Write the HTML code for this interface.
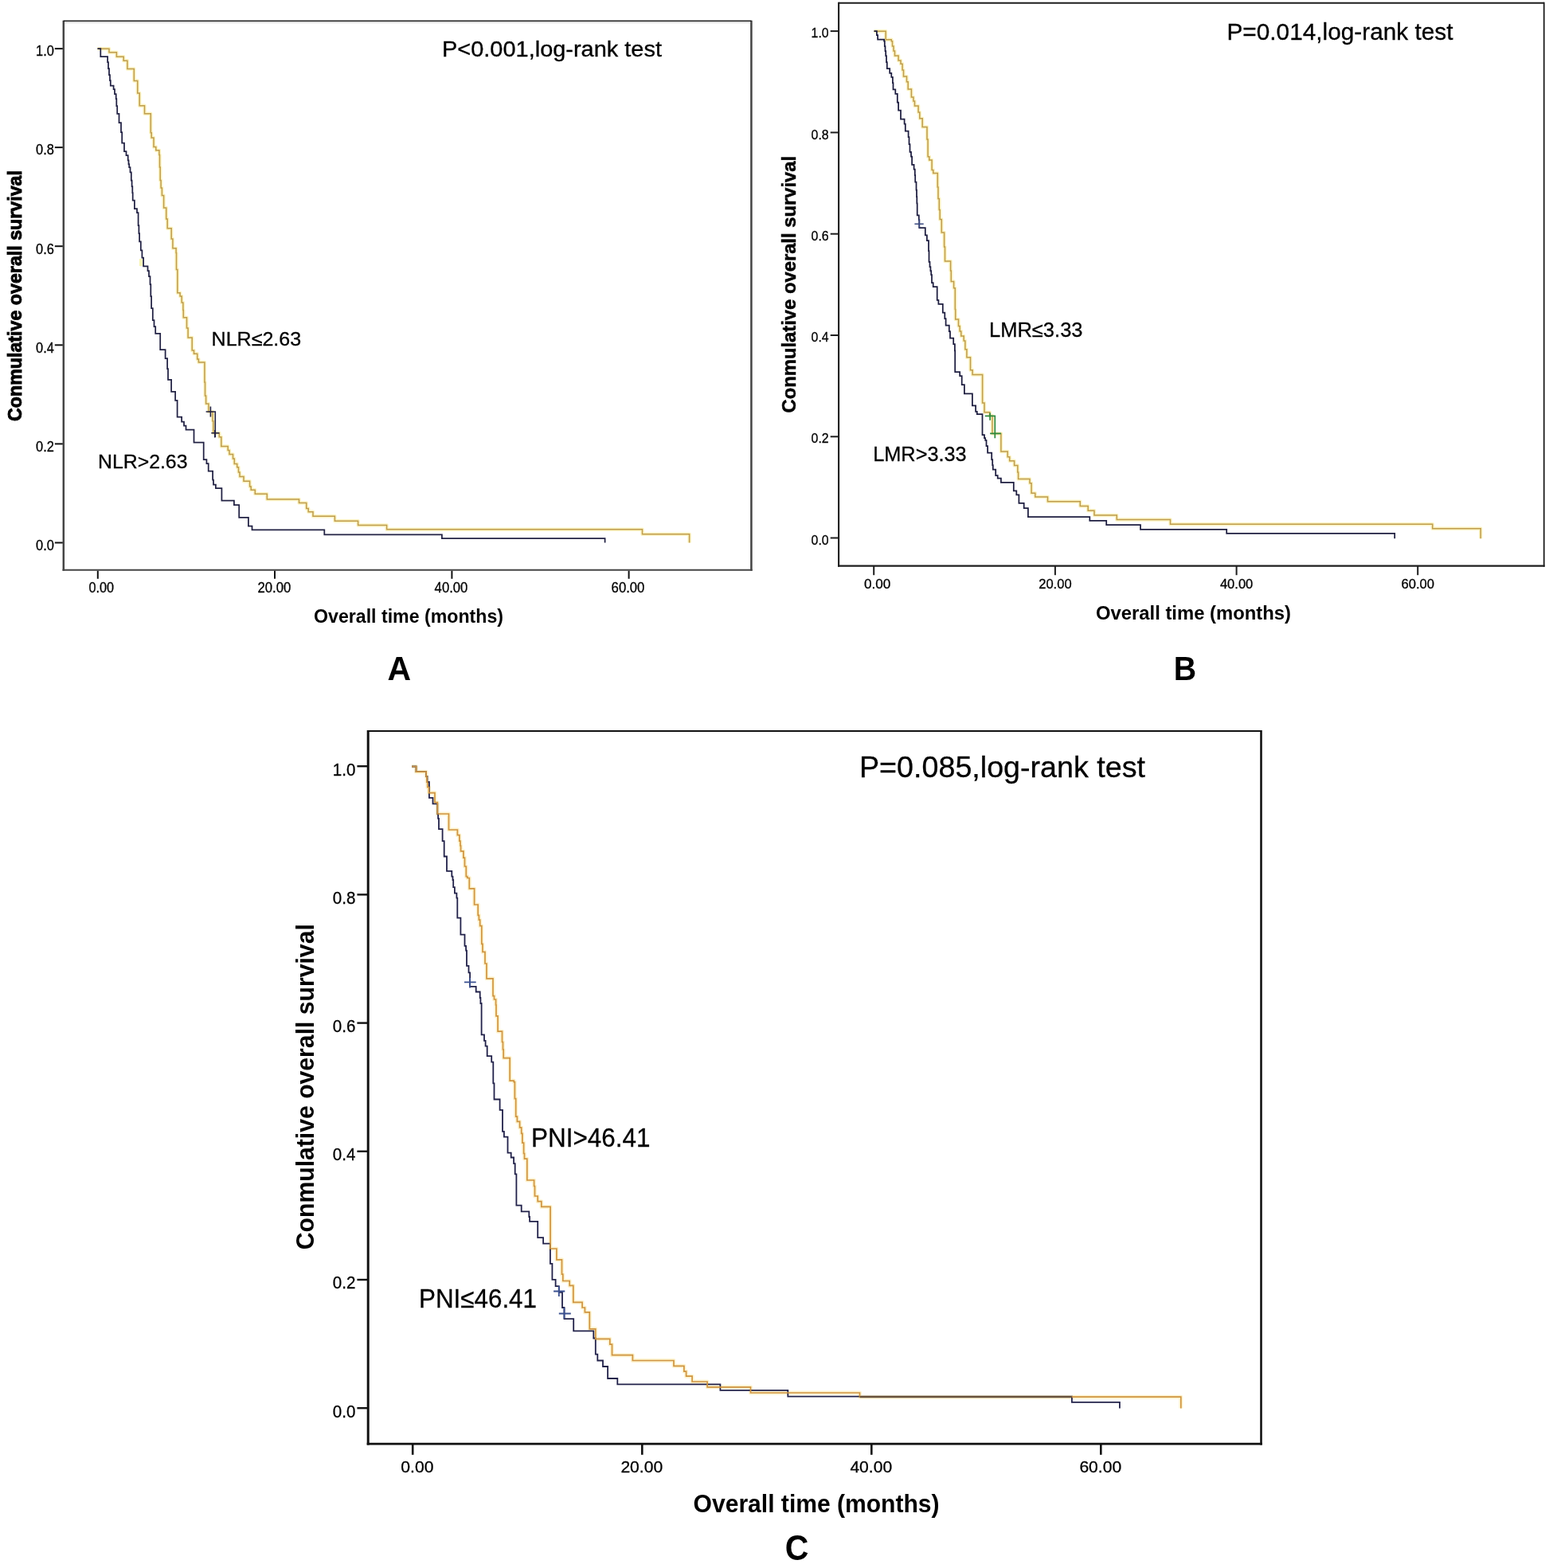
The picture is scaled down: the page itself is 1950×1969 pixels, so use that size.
<!DOCTYPE html>
<html><head><meta charset="utf-8"><title>Kaplan-Meier survival curves</title>
<style>
html,body{margin:0;padding:0;background:#fff;}
svg{display:block;}
text{font-family:"Liberation Sans",Arial,sans-serif;}
</style></head>
<body>
<svg width="1950" height="1969" viewBox="0 0 1950 1969">
<rect width="1950" height="1969" fill="#fff"/>
<line x1="79.8" y1="26.4" x2="943.4" y2="26.4" stroke="#444" stroke-width="1.4"/>
<line x1="79.8" y1="25.7" x2="79.8" y2="716.8499999999999" stroke="#444" stroke-width="2.5"/>
<line x1="943.4" y1="25.7" x2="943.4" y2="716.8499999999999" stroke="#444" stroke-width="2.5"/>
<line x1="78.55" y1="715.8" x2="944.65" y2="715.8" stroke="#444" stroke-width="2.1"/>
<line x1="81.1" y1="28.2" x2="942.1" y2="28.2" stroke="#d6d6d6" stroke-width="1.6"/>
<line x1="79.8" y1="26.4" x2="943.4" y2="26.4" stroke="#111" stroke-width="1.4"/>
<line x1="68.8" y1="61.1" x2="78.8" y2="61.1" stroke="#111" stroke-width="2"/>
<text x="67.9" y="70.4" font-size="18" stroke="#000" stroke-width="0.3" textLength="22.8" lengthAdjust="spacingAndGlyphs" text-anchor="end">1.0</text>
<line x1="68.8" y1="185.1" x2="78.8" y2="185.1" stroke="#111" stroke-width="2"/>
<text x="67.9" y="194.4" font-size="18" stroke="#000" stroke-width="0.3" textLength="22.8" lengthAdjust="spacingAndGlyphs" text-anchor="end">0.8</text>
<line x1="68.8" y1="309.2" x2="78.8" y2="309.2" stroke="#111" stroke-width="2"/>
<text x="67.9" y="318.5" font-size="18" stroke="#000" stroke-width="0.3" textLength="22.8" lengthAdjust="spacingAndGlyphs" text-anchor="end">0.6</text>
<line x1="68.8" y1="433.3" x2="78.8" y2="433.3" stroke="#111" stroke-width="2"/>
<text x="67.9" y="442.6" font-size="18" stroke="#000" stroke-width="0.3" textLength="22.8" lengthAdjust="spacingAndGlyphs" text-anchor="end">0.4</text>
<line x1="68.8" y1="557.4" x2="78.8" y2="557.4" stroke="#111" stroke-width="2"/>
<text x="67.9" y="566.6999999999999" font-size="18" stroke="#000" stroke-width="0.3" textLength="22.8" lengthAdjust="spacingAndGlyphs" text-anchor="end">0.2</text>
<line x1="68.8" y1="681.5" x2="78.8" y2="681.5" stroke="#111" stroke-width="2"/>
<text x="67.9" y="690.8" font-size="18" stroke="#000" stroke-width="0.3" textLength="22.8" lengthAdjust="spacingAndGlyphs" text-anchor="end">0.0</text>
<line x1="122.8" y1="716.8" x2="122.8" y2="726.8" stroke="#111" stroke-width="2"/>
<text x="127.3" y="744.2" font-size="17.5" stroke="#000" stroke-width="0.3" textLength="31.6" lengthAdjust="spacingAndGlyphs" text-anchor="middle">0.00</text>
<line x1="345.0" y1="716.8" x2="345.0" y2="726.8" stroke="#111" stroke-width="2"/>
<text x="344.4" y="744.2" font-size="17.5" stroke="#000" stroke-width="0.3" textLength="41.8" lengthAdjust="spacingAndGlyphs" text-anchor="middle">20.00</text>
<line x1="567.4" y1="716.8" x2="567.4" y2="726.8" stroke="#111" stroke-width="2"/>
<text x="566.5" y="744.2" font-size="17.5" stroke="#000" stroke-width="0.3" textLength="41.8" lengthAdjust="spacingAndGlyphs" text-anchor="middle">40.00</text>
<line x1="789.6" y1="716.8" x2="789.6" y2="726.8" stroke="#111" stroke-width="2"/>
<text x="788.5" y="744.2" font-size="17.5" stroke="#000" stroke-width="0.3" textLength="41.8" lengthAdjust="spacingAndGlyphs" text-anchor="middle">60.00</text>
<text x="394.0" y="781.6" font-size="23.2" font-weight="bold" textLength="238" lengthAdjust="spacingAndGlyphs">Overall time (months)</text>
<text x="26.6" y="529.0" font-size="23.0" font-weight="bold" textLength="315" lengthAdjust="spacingAndGlyphs" transform="rotate(-90 26.6 529.0)" stroke="#000" stroke-width="0.9">Conmulative overall survival</text>
<text x="555.0" y="71.0" font-size="26.8" stroke="#000" stroke-width="0.3" textLength="276" lengthAdjust="spacingAndGlyphs">P&lt;0.001,log-rank test</text>
<text x="265.6" y="434.0" font-size="24.5" stroke="#000" stroke-width="0.3" textLength="112.5" lengthAdjust="spacingAndGlyphs">NLR≤2.63</text>
<text x="123.0" y="587.6" font-size="24.5" stroke="#000" stroke-width="0.3" textLength="112.5" lengthAdjust="spacingAndGlyphs">NLR&gt;2.63</text>
<text x="486.6" y="854.0" font-size="43.0" font-weight="bold" textLength="29.6" lengthAdjust="spacingAndGlyphs">A</text>
<path d="M122.5,61.2H137V65.7H146.4V71.3H155.2V76.3H159.9V86.4H168.3V101.4H172.7V117.1H175.2V132.8H181.5V142.8H189.3V166.7H190.2V173.1H193V184.4H195.8V188.8H199.9V194.5H200.5V210H201.2V226.5H202.1V235.9H203.4V245.6H205.6V261H208.7V275H210.2V286.7H215.2V300H216.9V311.8H221.1V317.6H221.5V338.5H222.8V367.8H226.1V372H228.2V380H229.9V389.6H230.3V398.8H234.5V412H236.1V423.9H241.2V440H243.5V444.2H247.7V451H249.4V455.1H256.9V480H257.5V496.9H258.6V507H261.9V517H267V528.7H267.8V543.8H275.3V548.8H277.8V560.5H286.2V565.5H288V570.5H292.5V576H294.3V582.5H297.7V586.7H299.5V593H301V598.4H306V604.3H313.6V611H315.2V615.2H320.3V620.2H335.3V626.9H375.5V631.5H384.7V638.6H387.2V642.8H393V648.2H420.4V654.2H449.6V659.4H485.6V664.8H806.5V670.8H865.6V681.4" fill="none" stroke="#fbf3c2" stroke-width="4.5" stroke-linejoin="round"/>
<path d="M122.5,61.2H137V65.7H146.4V71.3H155.2V76.3H159.9V86.4H168.3V101.4H172.7V117.1H175.2V132.8H181.5V142.8H189.3V166.7H190.2V173.1H193V184.4H195.8V188.8H199.9V194.5H200.5V210H201.2V226.5H202.1V235.9H203.4V245.6H205.6V261H208.7V275H210.2V286.7H215.2V300H216.9V311.8H221.1V317.6H221.5V338.5H222.8V367.8H226.1V372H228.2V380H229.9V389.6H230.3V398.8H234.5V412H236.1V423.9H241.2V440H243.5V444.2H247.7V451H249.4V455.1H256.9V480H257.5V496.9H258.6V507H261.9V517H267V528.7H267.8V543.8H275.3V548.8H277.8V560.5H286.2V565.5H288V570.5H292.5V576H294.3V582.5H297.7V586.7H299.5V593H301V598.4H306V604.3H313.6V611H315.2V615.2H320.3V620.2H335.3V626.9H375.5V631.5H384.7V638.6H387.2V642.8H393V648.2H420.4V654.2H449.6V659.4H485.6V664.8H806.5V670.8H865.6V681.4" fill="none" stroke="#bf9c4c" stroke-width="1.5"/>
<path d="M122.5,61.2H126.3V71.0H135.1V78H136V86H137V94H138V101H138.8V107.7H142.6V112.1H144V118H145.7V124H146.3V133H147.2V142.8H149.5V154.1H152V166H153.2V179.7H156V190.1H158.5V195.1H160.7V201.4H161.5V206H162.2V210.2H163.5V216.4H164.8V226.5H165.6V234H166.3V242.1H166.7V251.6H168.9V262.2H172V267.2H173.6V283H174.4V293H175.1V303.4H176.8V314.3H178.4V323.5H180.1V334.4H185.5V340H187V347H188.5V357H189.3V372H190.1V387H191.8V402H193.5V410H195.2V418.8H201.2V439.2H207.6V450H210.1V463H211V476.8H215.1V491.9H220.1V502.8H222.6V523.7H228.1V529.5H231V534.6H233.5V539.6H243.5V555.5H255.7V577.2H259.4V582.2H261.7V591.7H267.1V602.6H268V608.5H270.9V613.1H278.4V628.5H293.9V634H300.2V649.9H311.9V660.7H316.5V665.4H407.3V671.3H554.9V676.2H759.6V681.4" fill="none" stroke="#222244" stroke-width="1.75"/>
<path d="M258.6,517H270.3V549M264.4,510.5V523.5M265.3,543.8H275.3M269.8,540V549.6" fill="none" stroke="#222244" stroke-width="1.6"/>
<rect x="174.8" y="325" width="4" height="9" fill="#f6f3a6" opacity="0.8"/>
<line x1="1053.1" y1="3.8" x2="1938.7" y2="3.8" stroke="#1e1e1e" stroke-width="2.0"/>
<line x1="1053.1" y1="2.8" x2="1053.1" y2="711.85" stroke="#1e1e1e" stroke-width="2.1"/>
<line x1="1938.7" y1="2.8" x2="1938.7" y2="711.85" stroke="#1e1e1e" stroke-width="1.8"/>
<line x1="1052.05" y1="710.7" x2="1939.6000000000001" y2="710.7" stroke="#1e1e1e" stroke-width="2.3"/>
<line x1="1042.7" y1="39.1" x2="1053.1" y2="39.1" stroke="#1e1e1e" stroke-width="2"/>
<text x="1040.6" y="47.2" font-size="16.3" stroke="#000" stroke-width="0.3" textLength="22.0" lengthAdjust="spacingAndGlyphs" text-anchor="end">1.0</text>
<line x1="1042.7" y1="166.4" x2="1053.1" y2="166.4" stroke="#1e1e1e" stroke-width="2"/>
<text x="1040.6" y="174.5" font-size="16.3" stroke="#000" stroke-width="0.3" textLength="22.0" lengthAdjust="spacingAndGlyphs" text-anchor="end">0.8</text>
<line x1="1042.7" y1="293.7" x2="1053.1" y2="293.7" stroke="#1e1e1e" stroke-width="2"/>
<text x="1040.6" y="301.8" font-size="16.3" stroke="#000" stroke-width="0.3" textLength="22.0" lengthAdjust="spacingAndGlyphs" text-anchor="end">0.6</text>
<line x1="1042.7" y1="421.0" x2="1053.1" y2="421.0" stroke="#1e1e1e" stroke-width="2"/>
<text x="1040.6" y="429.1" font-size="16.3" stroke="#000" stroke-width="0.3" textLength="22.0" lengthAdjust="spacingAndGlyphs" text-anchor="end">0.4</text>
<line x1="1042.7" y1="548.3" x2="1053.1" y2="548.3" stroke="#1e1e1e" stroke-width="2"/>
<text x="1040.6" y="556.4" font-size="16.3" stroke="#000" stroke-width="0.3" textLength="22.0" lengthAdjust="spacingAndGlyphs" text-anchor="end">0.2</text>
<line x1="1042.7" y1="675.5" x2="1053.1" y2="675.5" stroke="#1e1e1e" stroke-width="2"/>
<text x="1040.6" y="683.6" font-size="16.3" stroke="#000" stroke-width="0.3" textLength="22.0" lengthAdjust="spacingAndGlyphs" text-anchor="end">0.0</text>
<line x1="1097.2" y1="710.7" x2="1097.2" y2="722.2" stroke="#1e1e1e" stroke-width="2"/>
<text x="1101.7" y="738.9" font-size="16.7" stroke="#000" stroke-width="0.3" textLength="33.4" lengthAdjust="spacingAndGlyphs" text-anchor="middle">0.00</text>
<line x1="1324.9" y1="710.7" x2="1324.9" y2="722.2" stroke="#1e1e1e" stroke-width="2"/>
<text x="1324.9" y="738.9" font-size="16.7" stroke="#000" stroke-width="0.3" textLength="41.4" lengthAdjust="spacingAndGlyphs" text-anchor="middle">20.00</text>
<line x1="1552.6" y1="710.7" x2="1552.6" y2="722.2" stroke="#1e1e1e" stroke-width="2"/>
<text x="1552.6" y="738.9" font-size="16.7" stroke="#000" stroke-width="0.3" textLength="41.4" lengthAdjust="spacingAndGlyphs" text-anchor="middle">40.00</text>
<line x1="1780.2" y1="710.7" x2="1780.2" y2="722.2" stroke="#1e1e1e" stroke-width="2"/>
<text x="1780.2" y="738.9" font-size="16.7" stroke="#000" stroke-width="0.3" textLength="41.4" lengthAdjust="spacingAndGlyphs" text-anchor="middle">60.00</text>
<text x="1376.0" y="777.9" font-size="24.2" font-weight="bold" textLength="245" lengthAdjust="spacingAndGlyphs">Overall time (months)</text>
<text x="998.9" y="518.4" font-size="24.2" font-weight="bold" textLength="322.5" lengthAdjust="spacingAndGlyphs" transform="rotate(-90 998.9 518.4)" stroke="#000" stroke-width="0.5">Conmulative overall survival</text>
<text x="1540.5" y="50.0" font-size="29.5" stroke="#000" stroke-width="0.3" textLength="284" lengthAdjust="spacingAndGlyphs">P=0.014,log-rank test</text>
<text x="1242.0" y="422.6" font-size="25.3" stroke="#000" stroke-width="0.3" textLength="117.5" lengthAdjust="spacingAndGlyphs">LMR≤3.33</text>
<text x="1096.2" y="579.4" font-size="25.3" stroke="#000" stroke-width="0.3" textLength="117.5" lengthAdjust="spacingAndGlyphs">LMR&gt;3.33</text>
<text x="1473.8" y="854.0" font-size="43.0" font-weight="bold" textLength="28.4" lengthAdjust="spacingAndGlyphs">B</text>
<path d="M1097.5,39.2H1112.2V49.7H1119.3V51.7H1120.5V58H1122V64H1123.5V70.1H1128.1V76H1131V80.2H1133.1V88H1134.5V96.1H1138.5V102.8H1140.2V112H1144.4V122H1146.9V127H1148.5V132.9H1153.1V141H1154.8V148.8H1158.2V159.6H1164V175H1165.1V196.7H1166.8V200.9H1170.1V213.5H1171.8V217.6H1177.3V235H1178V249.4H1179.3V263.6H1180.2V275.4H1182.3V292.1H1185.6V310H1186.5V328H1193.6V340H1194.3V353.4H1197.6V361.8H1199.3V388.5H1199.7V401.1H1203.5V409.5H1205.2V416H1206.8V422H1210.2V427.9H1211.9V438.7H1213.9V448.8H1218.5V464.7H1221.1V470.5H1233.6V506H1236V517.7H1242.7V522.3H1246V544.4H1256.9V567H1265.2V573.7H1267.7V578.7H1273.6V584.6H1277.8V593H1278.6V601.5H1293V606.7H1295.1V619.3H1299.8V624H1315.5V629.7H1356.3V635.5H1366.2V641.2H1374V647H1402.3V652.5H1469.5V658.3H1798.7V663.7H1859.2V676.2" fill="none" stroke="#fbf3c2" stroke-width="4.5" stroke-linejoin="round"/>
<path d="M1097.5,39.2H1112.2V49.7H1119.3V51.7H1120.5V58H1122V64H1123.5V70.1H1128.1V76H1131V80.2H1133.1V88H1134.5V96.1H1138.5V102.8H1140.2V112H1144.4V122H1146.9V127H1148.5V132.9H1153.1V141H1154.8V148.8H1158.2V159.6H1164V175H1165.1V196.7H1166.8V200.9H1170.1V213.5H1171.8V217.6H1177.3V235H1178V249.4H1179.3V263.6H1180.2V275.4H1182.3V292.1H1185.6V310H1186.5V328H1193.6V340H1194.3V353.4H1197.6V361.8H1199.3V388.5H1199.7V401.1H1203.5V409.5H1205.2V416H1206.8V422H1210.2V427.9H1211.9V438.7H1213.9V448.8H1218.5V464.7H1221.1V470.5H1233.6V506H1236V517.7H1242.7V522.3H1246V544.4H1256.9V567H1265.2V573.7H1267.7V578.7H1273.6V584.6H1277.8V593H1278.6V601.5H1293V606.7H1295.1V619.3H1299.8V624H1315.5V629.7H1356.3V635.5H1366.2V641.2H1374V647H1402.3V652.5H1469.5V658.3H1798.7V663.7H1859.2V676.2" fill="none" stroke="#bf9c4c" stroke-width="1.5"/>
<path d="M1097.5,39.2H1100.9V44.2H1102.1V49.7H1110.1V51.7H1110.8V58H1111.5V64H1112.2V70.1H1113V78H1113.8V86H1117.2V91.9H1119.3V96.9H1120.9V104H1121.5V112.4H1124.3V117.8H1126.8V128.7H1128.1V138.7H1131V149.6H1135.6V155.5H1136.8V164.7H1140.6V172H1141.5V181H1142.5V190.9H1144V196.7H1145.1V206.8H1147.6V212.6H1148.8V220H1149.2V228.5H1150.5V238.5H1151V247H1151.3V255.3H1151.7V270.3H1153.8V276.2H1154.3V286.2H1161.8V295.4H1163.9V302.1H1166V315H1166.5V328.9H1167.5V335H1168.4V340H1169.2V345.1H1170V355.1H1171.7V360.1H1176.7V376.8H1178.4V381.9H1183.8V392.7H1186.3V400H1187.6V408.6H1191.8V416H1193V424.5H1197.2V432H1198.9V440.4H1199.2V467.2H1205.2V472.2H1207.7V483.1H1210.9V494.3H1220.9V509.3H1225.1V516.8H1226.8V520.2H1233.5V546.1H1236V550H1237.2V552.8H1238.5V560H1240.1V568.7H1245.2V577H1246.2V584H1246.8V589.6H1250.2V597.1H1252.7V600.5H1256.9V605.9H1272.8V616.4H1276.3V621.4H1279.4V631.8H1285.7V638.1H1290.9V649.1H1368.3V653.8H1389.2V659.0H1432V664.8H1540.2V669.8H1751.2V676.2" fill="none" stroke="#1e1e40" stroke-width="1.75"/>
<path d="M1148.4,281.2H1159.7M1154.3,275.3V286.2" fill="none" stroke="#3a4a80" stroke-width="1.6"/>
<path d="M1236.8,522.3H1249.3V550.3M1243.1,518.5V527.7M1243.1,544.4H1256.9" fill="none" stroke="#2e8a3e" stroke-width="1.7"/>
<line x1="462.2" y1="918.0" x2="1583.5" y2="918.0" stroke="#111" stroke-width="2.0"/>
<line x1="462.2" y1="917.0" x2="462.2" y2="1814.3999999999999" stroke="#111" stroke-width="3.0"/>
<line x1="1583.5" y1="917.0" x2="1583.5" y2="1814.3999999999999" stroke="#111" stroke-width="2.6"/>
<line x1="460.7" y1="1813.1" x2="1584.8" y2="1813.1" stroke="#111" stroke-width="2.6"/>
<line x1="448.4" y1="962.2" x2="462.2" y2="962.2" stroke="#111" stroke-width="2.4"/>
<text x="446.4" y="973.6" font-size="21.2" stroke="#000" stroke-width="0.3" textLength="28.6" lengthAdjust="spacingAndGlyphs" text-anchor="end">1.0</text>
<line x1="448.4" y1="1123.4" x2="462.2" y2="1123.4" stroke="#111" stroke-width="2.4"/>
<text x="446.4" y="1134.8000000000002" font-size="21.2" stroke="#000" stroke-width="0.3" textLength="28.6" lengthAdjust="spacingAndGlyphs" text-anchor="end">0.8</text>
<line x1="448.4" y1="1284.6" x2="462.2" y2="1284.6" stroke="#111" stroke-width="2.4"/>
<text x="446.4" y="1296.0" font-size="21.2" stroke="#000" stroke-width="0.3" textLength="28.6" lengthAdjust="spacingAndGlyphs" text-anchor="end">0.6</text>
<line x1="448.4" y1="1445.8" x2="462.2" y2="1445.8" stroke="#111" stroke-width="2.4"/>
<text x="446.4" y="1457.2" font-size="21.2" stroke="#000" stroke-width="0.3" textLength="28.6" lengthAdjust="spacingAndGlyphs" text-anchor="end">0.4</text>
<line x1="448.4" y1="1607.0" x2="462.2" y2="1607.0" stroke="#111" stroke-width="2.4"/>
<text x="446.4" y="1618.4" font-size="21.2" stroke="#000" stroke-width="0.3" textLength="28.6" lengthAdjust="spacingAndGlyphs" text-anchor="end">0.2</text>
<line x1="448.4" y1="1768.2" x2="462.2" y2="1768.2" stroke="#111" stroke-width="2.4"/>
<text x="446.4" y="1779.6000000000001" font-size="21.2" stroke="#000" stroke-width="0.3" textLength="28.6" lengthAdjust="spacingAndGlyphs" text-anchor="end">0.0</text>
<line x1="518.2" y1="1813.1" x2="518.2" y2="1826.8" stroke="#111" stroke-width="2.6"/>
<text x="523.9" y="1848.7" font-size="21.0" stroke="#000" stroke-width="0.3" textLength="41.2" lengthAdjust="spacingAndGlyphs" text-anchor="middle">0.00</text>
<line x1="806.3" y1="1813.1" x2="806.3" y2="1826.8" stroke="#111" stroke-width="2.6"/>
<text x="805.8" y="1848.7" font-size="21.0" stroke="#000" stroke-width="0.3" textLength="52.8" lengthAdjust="spacingAndGlyphs" text-anchor="middle">20.00</text>
<line x1="1094.3" y1="1813.1" x2="1094.3" y2="1826.8" stroke="#111" stroke-width="2.6"/>
<text x="1093.8" y="1848.7" font-size="21.0" stroke="#000" stroke-width="0.3" textLength="52.8" lengthAdjust="spacingAndGlyphs" text-anchor="middle">40.00</text>
<line x1="1382.3" y1="1813.1" x2="1382.3" y2="1826.8" stroke="#111" stroke-width="2.6"/>
<text x="1381.8" y="1848.7" font-size="21.0" stroke="#000" stroke-width="0.3" textLength="52.8" lengthAdjust="spacingAndGlyphs" text-anchor="middle">60.00</text>
<text x="870.6" y="1899.2" font-size="31.0" font-weight="bold" textLength="309" lengthAdjust="spacingAndGlyphs">Overall time (months)</text>
<text x="393.7" y="1569.2" font-size="31.2" font-weight="bold" textLength="409" lengthAdjust="spacingAndGlyphs" transform="rotate(-90 393.7 1569.2)">Conmulative overall survival</text>
<text x="1079.0" y="976.4" font-size="37.8" stroke="#000" stroke-width="0.3" textLength="359" lengthAdjust="spacingAndGlyphs">P=0.085,log-rank test</text>
<text x="667.0" y="1439.5" font-size="33.5" stroke="#000" stroke-width="0.3" textLength="149.5" lengthAdjust="spacingAndGlyphs">PNI&gt;46.41</text>
<text x="526.0" y="1642.4" font-size="33.5" stroke="#000" stroke-width="0.3" textLength="148" lengthAdjust="spacingAndGlyphs">PNI≤46.41</text>
<text x="985.8" y="1958.8" font-size="43.6" font-weight="bold" textLength="29.6" lengthAdjust="spacingAndGlyphs">C</text>
<path d="M517.1,962.5H522.5V969.2H535.1V975H536V982H536.8V988.5H538.5V995.6H546V1007.7H549.3V1022H563.5V1042H574.4V1048.7H576.9V1056.2H578V1062H578.6V1068.8H581.9V1077.1H583.5V1088H585.3V1100.6H586.8V1102.5H589.3V1115.9H595.6V1136H600.2V1149.3H601.4V1155.2H602.7V1162.7H604.8V1185.3H606V1195.4H609V1210H611V1228.8H619V1250.6H620.5V1255H622.6V1262H623V1275.9H625.1V1295.2H630.5V1308.5H631.5V1318H632.2V1328.6H640.2V1357.1H645.2V1358.7H646.4V1379.6H647.7V1402.2H649.4V1408.4H652.6V1415.9H654.7V1423.4H655.9V1435.1H657.6V1448.5H658.5V1455.2H661.8V1482H670.6V1489.5H671.5V1502H675.2V1508.7H679.8V1515.4H691.1V1568H698.9V1581.8H705.5V1600.2H706.8V1608.5H715.2V1614.4H719.8V1635.3H731.1V1642H734.4V1647.9H740.3V1668.8H747.8V1681.3H765.8V1688.2H768.5V1701.7H794.4V1708.5H846V1715.3H858.9V1722.1H861.6V1728.2H869.1V1735H888.1V1741.8H942.5V1749H1079.5V1754.2H1482.8V1768.6" fill="none" stroke="#fdf3cf" stroke-width="5" stroke-linejoin="round"/>
<path d="M517.1,962.5H522.5V969.2H535.1V975H536.5V982H538.9V1001.9H543.5V1009.4H549.3V1022H550.1V1027.8H551V1041.2H555.6V1056.2H557.7V1075.5H561V1093.9H567.3V1100.6H568.5V1105H569.2V1114.2H570.9V1121.7H573.4V1127.6H574.3V1152.7H578.4V1173.6H583.5V1187.8H585.1V1193.7H586V1212.9H588.5V1221.3H590.1V1238.8H597.7V1245.5H602.7V1253H603.4V1260H604.6V1299.3H608V1306.9H609.6V1313.6H611.7V1326.1H617.2V1333.6H619.3V1360.4H620.5V1380.5H627.6V1393.9H631V1420.9H632.9V1427.6H637.5V1447.7H641.7V1453.5H645.1V1461.1H646.7V1474.4H648.4V1513.7H654.7V1521.3H664.3V1528H665.1V1533.8H675.2V1554.2H682.1V1561.7H690.9V1586.8H693.4V1606.9H697.6V1615.2H701.8V1622.8H706V1642H708.5V1656.2H720.2V1671.3H745.3V1680.5H747.8V1700.6H750.3V1708.5H757V1716H763.1V1731H775.3V1738.4H904.4V1745.9H989.3V1753.6H1345.9V1760.8H1405.9V1768.6" fill="none" stroke="#22224a" stroke-width="1.8"/>
<path d="M517.1,962.5H522.5V969.2H535.1V975H536V982H536.8V988.5H538.5V995.6H546V1007.7H549.3V1022H563.5V1042H574.4V1048.7H576.9V1056.2H578V1062H578.6V1068.8H581.9V1077.1H583.5V1088H585.3V1100.6H586.8V1102.5H589.3V1115.9H595.6V1136H600.2V1149.3H601.4V1155.2H602.7V1162.7H604.8V1185.3H606V1195.4H609V1210H611V1228.8H619V1250.6H620.5V1255H622.6V1262H623V1275.9H625.1V1295.2H630.5V1308.5H631.5V1318H632.2V1328.6H640.2V1357.1H645.2V1358.7H646.4V1379.6H647.7V1402.2H649.4V1408.4H652.6V1415.9H654.7V1423.4H655.9V1435.1H657.6V1448.5H658.5V1455.2H661.8V1482H670.6V1489.5H671.5V1502H675.2V1508.7H679.8V1515.4H691.1V1568H698.9V1581.8H705.5V1600.2H706.8V1608.5H715.2V1614.4H719.8V1635.3H731.1V1642H734.4V1647.9H740.3V1668.8H747.8V1681.3H765.8V1688.2H768.5V1701.7H794.4V1708.5H846V1715.3H858.9V1722.1H861.6V1728.2H869.1V1735H888.1V1741.8H942.5V1749H1079.5V1754.2H1482.8V1768.6" fill="none" stroke="#cf9440" stroke-width="1.7"/>
<path d="M1079.5,1754.2H1345.9" fill="none" stroke="#5e4a3a" stroke-width="2.1"/>
<path d="M583,1233.4H597.7M590.1,1228V1240.5M695.1,1621.5H709.3M701.8,1615V1628M701.8,1649.5H716.8M708.5,1642V1656" fill="none" stroke="#3a5090" stroke-width="1.8"/>
</svg>
</body></html>
